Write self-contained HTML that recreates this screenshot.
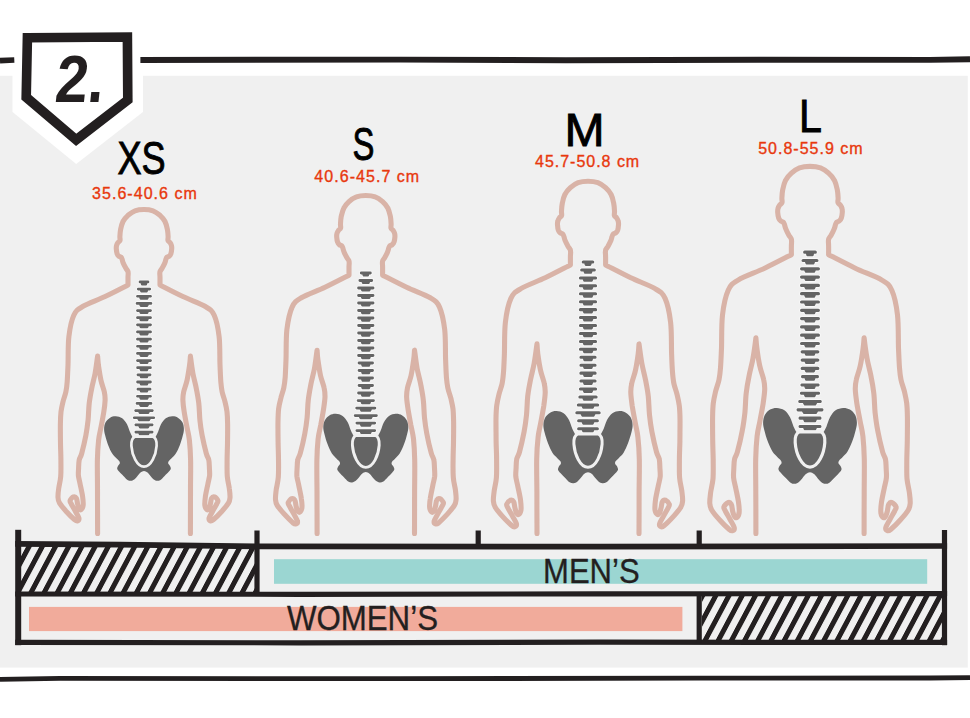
<!DOCTYPE html>
<html lang="en">
<head>
<meta charset="utf-8">
<title>2. Torso size chart</title>
<style>
html,body{margin:0;padding:0;background:#fff;}
body{width:970px;height:718px;overflow:hidden;}
svg{display:block;}
text{font-family:"Liberation Sans",sans-serif;}
.sz{font-size:45.6px;fill:#000;stroke:#000;stroke-width:0.9px;}
.cm{font-size:16px;fill:#e8380d;stroke:#e8380d;stroke-width:0.35px;}
.bar{font-size:34.4px;fill:#231f20;stroke:#231f20;stroke-width:0.3px;}
.num{font-size:66.5px;font-weight:bold;fill:#231f20;}
</style>
</head>
<body>
<svg width="970" height="718" viewBox="0 0 970 718">
<rect x="0" y="75.8" width="967.8" height="591.8" fill="#f0f0f0"/>
<path d="M97.6,533.5C97.6,526.2 97.5,501.8 97.5,489.5C97.5,477.2 97.2,468.1 97.4,459.9C97.6,451.7 98,445.7 98.6,440.2C99.2,434.7 100.2,431.5 101.1,426.8C102,422.1 103.1,416.2 103.8,411.8C104.5,407.4 105,403.4 105.1,400.1C105.2,396.8 105,395.1 104.3,391.8C103.6,388.5 101.9,384.6 100.9,380.1C99.9,375.6 99,369 98.4,365C97.9,361 97.7,357.6 97.6,356.1C97.2,359 96.1,368 95.1,373.4C94.1,378.8 92.7,383.4 91.7,388.4C90.7,393.4 89.8,398.1 89.2,403.4C88.6,408.7 88.6,414.8 88.1,420.1C87.5,425.4 87,429.6 85.9,435.2C84.8,440.8 82.8,449.4 81.7,453.5C80.6,457.6 79.7,457.5 79.2,459.9C78.7,462.3 78.7,465.4 78.6,468C78.5,470.6 78.2,473 78.4,475.6C78.7,478.2 79.4,480.4 80.1,483.9C80.8,487.4 82.1,492.9 82.6,496.5C83.1,500.1 83.4,503.5 83.1,505.7C82.8,507.9 81.6,509.3 80.9,509.7C80.2,510.1 79.5,509.1 78.9,508.1C78.4,507.2 78,505.6 77.6,504C77.2,502.4 77.1,499.4 76.4,498.2C75.7,497 74.5,496.5 73.4,496.9C72.4,497.3 70.4,499.4 70.1,500.6C69.8,501.8 70.4,502.2 71.3,504C72.2,505.8 74.2,509.1 75.5,511.5C76.8,513.9 78.6,516.6 78.9,518.1C79.2,519.6 78.3,520.5 77.6,520.8C76.9,521.1 76.6,521.3 74.7,519.8C72.8,518.2 68.8,514.3 66.3,511.5C63.8,508.7 61,505.5 59.6,503.2C58.2,500.9 58.1,499.9 58,497.5C57.9,495.1 58.2,492 58.7,488.5C59.2,485 60.3,481.2 60.7,476.5C61.1,471.8 60.9,465.5 60.9,460C60.9,454.5 60.6,449.6 60.5,443.5C60.4,437.4 60.3,428.8 60.4,423.5C60.5,418.2 60.6,415.4 61,411.8C61.4,408.2 62.2,405.1 63,401.8C63.8,398.5 65.2,395.2 65.9,391.8C66.6,388.4 66.9,386.2 67.2,381.7C67.5,377.2 67.7,372.5 68,365C68.3,357.5 67.9,344.8 68.9,336.5C69.9,328.2 71.5,320.3 73.8,315.3C76.1,310.3 77.4,309.6 82.6,306.5C87.8,303.4 97.5,300.1 105.1,296.5C112.7,292.9 124.2,286.9 128,285C128,283.8 128,279.4 128,277.5C128,275.6 128.2,274.6 128.2,273.5C128.2,272.4 128.2,272 127.8,271.1C127.4,270.2 126.7,269.7 125.9,268.3C125.1,266.9 123.7,264.2 123.1,262.7C122.5,261.2 122.4,260.1 122.1,259.2C121.8,258.3 121.5,257.6 121,257.1C120.5,256.6 119.6,256.8 118.9,256.2C118.2,255.6 117.5,254.9 117.1,253.7C116.7,252.5 116.4,250.2 116.3,248.8C116.2,247.4 116.3,246.4 116.6,245.3C116.9,244.2 117.4,243.3 118,242.5C118.6,241.7 119.7,241.4 120,240.4C120.3,239.4 119.8,238.3 119.9,236.5C120,234.7 120.1,232 120.6,229.5C121.1,227 121.8,223.9 123,221.5C124.2,219.1 126,217.1 128,215.3C130,213.6 132.3,211.8 135,210.8C137.7,209.8 141,209.5 144,209.5C147,209.5 150.3,209.8 153,210.8C155.7,211.8 158,213.6 160,215.3C162,217.1 163.8,219.1 165,221.5C166.2,223.9 166.9,227 167.4,229.5C167.9,232 168,234.7 168.1,236.5C168.2,238.3 167.7,239.4 168,240.4C168.3,241.4 169.4,241.7 170,242.5C170.6,243.3 171.1,244.2 171.4,245.3C171.7,246.4 171.8,247.4 171.7,248.8C171.6,250.2 171.3,252.5 170.9,253.7C170.5,254.9 169.8,255.6 169.1,256.2C168.4,256.8 167.5,256.6 167,257.1C166.5,257.6 166.2,258.3 165.9,259.2C165.6,260.1 165.5,261.2 164.9,262.7C164.3,264.2 162.9,266.9 162.1,268.3C161.3,269.7 160.6,270.2 160.2,271.1C159.8,272 159.8,272.4 159.8,273.5C159.8,274.6 160,275.6 160,277.5C160,279.4 160,283.8 160,285C163.8,286.9 175.3,292.9 182.9,296.5C190.5,300.1 200.2,303.4 205.4,306.5C210.6,309.6 211.9,310.3 214.2,315.3C216.5,320.3 218.1,328.2 219.1,336.5C220.1,344.8 219.7,357.5 220,365C220.3,372.5 220.5,377.2 220.8,381.7C221.2,386.2 221.4,388.4 222.1,391.8C222.8,395.2 224.2,398.5 225,401.8C225.8,405.1 226.6,408.2 227,411.8C227.4,415.4 227.5,418.2 227.6,423.5C227.7,428.8 227.6,437.4 227.5,443.5C227.4,449.6 227.1,454.5 227.1,460C227.1,465.5 226.9,471.8 227.3,476.5C227.7,481.2 228.9,485 229.3,488.5C229.8,492 230.2,495.1 230,497.5C229.8,499.9 229.8,500.9 228.4,503.2C227,505.5 224.2,508.7 221.7,511.5C219.2,514.3 215.2,518.2 213.3,519.8C211.4,521.3 211.1,521.1 210.4,520.8C209.7,520.5 208.8,519.6 209.1,518.1C209.4,516.6 211.2,513.9 212.5,511.5C213.8,509.1 215.8,505.8 216.7,504C217.6,502.2 218.2,501.8 217.9,500.6C217.6,499.4 215.7,497.3 214.6,496.9C213.5,496.5 212.3,497 211.6,498.2C210.9,499.4 210.8,502.4 210.4,504C210,505.6 209.7,507.2 209.1,508.1C208.5,509.1 207.8,510.1 207.1,509.7C206.4,509.3 205.2,507.9 204.9,505.7C204.6,503.5 204.9,500.1 205.4,496.5C205.9,492.9 207.2,487.4 207.9,483.9C208.6,480.4 209.3,478.2 209.6,475.6C209.8,473 209.5,470.6 209.4,468C209.3,465.4 209.3,462.3 208.8,459.9C208.3,457.5 207.4,457.6 206.3,453.5C205.2,449.4 203.2,440.8 202.1,435.2C201,429.6 200.4,425.4 199.9,420.1C199.4,414.8 199.4,408.7 198.8,403.4C198.2,398.1 197.3,393.4 196.3,388.4C195.3,383.4 193.9,378.8 192.9,373.4C191.9,368 190.8,359 190.4,356.1C190.3,357.6 190.2,361 189.6,365C189,369 188.1,375.6 187.1,380.1C186.1,384.6 184.4,388.5 183.7,391.8C183,395.1 182.8,396.8 182.9,400.1C183,403.4 183.5,407.4 184.2,411.8C184.9,416.2 186,422.1 186.9,426.8C187.8,431.5 188.8,434.7 189.4,440.2C190,445.7 190.4,451.7 190.6,459.9C190.8,468.1 190.5,477.2 190.5,489.5C190.5,501.8 190.4,526.2 190.4,533.5" fill="none" stroke="#d9b3a7" stroke-width="5.1" stroke-linecap="round" stroke-linejoin="round"/>
<path d="M139.7,280.6 H148.3 A1.4,1.4 0 0 1 148.3,283.3 H139.7 A1.4,1.4 0 0 1 139.7,280.6 ZM140.6,282.9 L147.4,282.9 L147,284.7 Q146.8,285.5 146,285.5 L142,285.5 Q141.2,285.5 141,284.7 ZM138.3,287.7 H149.7 A1.4,1.4 0 0 1 149.7,290.5 H138.3 A1.4,1.4 0 0 1 138.3,287.7 ZM139.8,290.1 L148.2,290.1 L147.7,291.8 Q147.5,292.6 146.7,292.6 L141.3,292.6 Q140.5,292.6 140.3,291.8 ZM137.1,294.9 H150.9 A1.4,1.4 0 0 1 150.9,297.6 H137.1 A1.4,1.4 0 0 1 137.1,294.9 ZM139.1,297.2 L148.9,297.2 L148.3,298.9 Q148.1,299.7 147.3,299.7 L140.7,299.7 Q139.9,299.7 139.7,298.9 ZM137.1,302 H150.9 A1.4,1.4 0 0 1 150.9,304.8 H137.1 A1.4,1.4 0 0 1 137.1,302 ZM139.1,304.4 L148.9,304.4 L148.3,306.1 Q148.1,306.9 147.3,306.9 L140.7,306.9 Q139.9,306.9 139.7,306.1 ZM137.1,309.2 H150.9 A1.4,1.4 0 0 1 150.9,311.9 H137.1 A1.4,1.4 0 0 1 137.1,309.2 ZM139.1,311.5 L148.9,311.5 L148.3,313.2 Q148.1,314 147.3,314 L140.7,314 Q139.9,314 139.7,313.2 ZM137.1,316.3 H150.9 A1.4,1.4 0 0 1 150.9,319 H137.1 A1.4,1.4 0 0 1 137.1,316.3 ZM139.1,318.6 L148.9,318.6 L148.3,320.4 Q148.1,321.2 147.3,321.2 L140.7,321.2 Q139.9,321.2 139.7,320.4 ZM137.1,323.5 H150.9 A1.4,1.4 0 0 1 150.9,326.2 H137.1 A1.4,1.4 0 0 1 137.1,323.5 ZM139.1,325.8 L148.9,325.8 L148.3,327.5 Q148.1,328.3 147.3,328.3 L140.7,328.3 Q139.9,328.3 139.7,327.5 ZM137.1,330.6 H150.9 A1.4,1.4 0 0 1 150.9,333.3 H137.1 A1.4,1.4 0 0 1 137.1,330.6 ZM139.1,332.9 L148.9,332.9 L148.3,334.7 Q148.1,335.5 147.3,335.5 L140.7,335.5 Q139.9,335.5 139.7,334.7 ZM137.1,337.8 H150.9 A1.4,1.4 0 0 1 150.9,340.5 H137.1 A1.4,1.4 0 0 1 137.1,337.8 ZM139.1,340.1 L148.9,340.1 L148.3,341.8 Q148.1,342.6 147.3,342.6 L140.7,342.6 Q139.9,342.6 139.7,341.8 ZM137.1,344.9 H150.9 A1.4,1.4 0 0 1 150.9,347.6 H137.1 A1.4,1.4 0 0 1 137.1,344.9 ZM139.1,347.2 L148.9,347.2 L148.3,349 Q148.1,349.8 147.3,349.8 L140.7,349.8 Q139.9,349.8 139.7,349 ZM137.1,352.1 H150.9 A1.4,1.4 0 0 1 150.9,354.8 H137.1 A1.4,1.4 0 0 1 137.1,352.1 ZM139.1,354.4 L148.9,354.4 L148.3,356.1 Q148.1,356.9 147.3,356.9 L140.7,356.9 Q139.9,356.9 139.7,356.1 ZM137.1,359.2 H150.9 A1.4,1.4 0 0 1 150.9,361.9 H137.1 A1.4,1.4 0 0 1 137.1,359.2 ZM139.1,361.5 L148.9,361.5 L148.3,363.3 Q148.1,364.1 147.3,364.1 L140.7,364.1 Q139.9,364.1 139.7,363.3 ZM137.6,366.3 H150.4 A1.4,1.4 0 0 1 150.4,369.1 H137.6 A1.4,1.4 0 0 1 137.6,366.3 ZM139.3,368.7 L148.7,368.7 L148,370.4 Q147.9,371.2 147.1,371.2 L140.9,371.2 Q140.1,371.2 140,370.4 ZM137.6,373.5 H150.4 A1.4,1.4 0 0 1 150.4,376.2 H137.6 A1.4,1.4 0 0 1 137.6,373.5 ZM139.3,375.8 L148.7,375.8 L148,377.5 Q147.9,378.3 147.1,378.3 L140.9,378.3 Q140.1,378.3 140,377.5 ZM137.6,380.6 H150.4 A1.4,1.4 0 0 1 150.4,383.4 H137.6 A1.4,1.4 0 0 1 137.6,380.6 ZM139.3,383 L148.7,383 L148,384.7 Q147.9,385.5 147.1,385.5 L140.9,385.5 Q140.1,385.5 140,384.7 ZM137.6,387.8 H150.4 A1.4,1.4 0 0 1 150.4,390.5 H137.6 A1.4,1.4 0 0 1 137.6,387.8 ZM139.3,390.1 L148.7,390.1 L148,391.8 Q147.9,392.6 147.1,392.6 L140.9,392.6 Q140.1,392.6 140,391.8 ZM137.1,394.9 H150.9 A1.4,1.4 0 0 1 150.9,397.6 H137.1 A1.4,1.4 0 0 1 137.1,394.9 ZM139.1,397.2 L148.9,397.2 L148.3,399 Q148.1,399.8 147.3,399.8 L140.7,399.8 Q139.9,399.8 139.7,399 ZM136.7,402.1 H151.3 A1.4,1.4 0 0 1 151.3,404.8 H136.7 A1.4,1.4 0 0 1 136.7,402.1 ZM138.8,404.4 L149.2,404.4 L148.5,406.1 Q148.3,406.9 147.5,406.9 L140.5,406.9 Q139.7,406.9 139.5,406.1 ZM135.3,409.2 H152.7 A1.4,1.4 0 0 1 152.7,411.9 H135.3 A1.4,1.4 0 0 1 135.3,409.2 ZM138,411.5 L150,411.5 L149.2,413.3 Q149,414.1 148.2,414.1 L139.8,414.1 Q139,414.1 138.8,413.3 ZM133.9,416.4 H154.1 A1.4,1.4 0 0 1 154.1,419.1 H133.9 A1.4,1.4 0 0 1 133.9,416.4 ZM137.1,418.7 L150.9,418.7 L149.9,420.4 Q149.7,421.2 148.9,421.2 L139.1,421.2 Q138.3,421.2 138.1,420.4 ZM135.5,423.5 H152.5 A1.4,1.4 0 0 1 152.5,426.2 H135.5 A1.4,1.4 0 0 1 135.5,423.5 ZM138.1,425.8 L149.9,425.8 L149.1,427.6 Q148.9,428.4 148.1,428.4 L139.9,428.4 Q139.1,428.4 138.9,427.6 ZM135.5,430.7 H152.5 A1.4,1.4 0 0 1 152.5,433.4 H135.5 A1.4,1.4 0 0 1 135.5,430.7 ZM138.1,433 L149.9,433 L149.1,434.7 Q148.9,435.5 148.1,435.5 L139.9,435.5 Q139.1,435.5 138.9,434.7 Z" fill="#646464" stroke="#f9f9f9" stroke-width="1.6" paint-order="stroke"/>
<path d="M144,471C142.8,471 141.6,471.8 140.5,472.6C139.4,473.5 138.5,475 137.5,476.1C136.5,477.2 135.7,478.4 134.6,479.2C133.5,480 132.3,480.7 131.1,480.8C129.9,480.9 128.8,480.7 127.5,479.9C126.2,479.1 124.8,477.3 123.4,475.9C122,474.5 120.3,472.9 119.3,471.7C118.3,470.5 117.4,469.7 117.2,468.7C117,467.7 117.7,466.6 118.1,465.7C118.5,464.8 119.6,464.2 119.8,463.4C120,462.6 119.8,461.9 119.2,461C118.6,460.1 117.6,459.4 116.4,458.2C115.2,457 113.6,455.8 112.2,453.6C110.8,451.4 109.3,447.9 108.1,444.9C106.9,441.9 105.9,438.2 105.2,435.5C104.5,432.8 104,430.9 104.1,428.7C104.2,426.5 104.6,424.1 105.6,422.3C106.6,420.5 108.4,418.7 110.1,417.7C111.8,416.7 113.8,416.2 115.8,416.3C117.8,416.4 120.3,417 122.2,418.3C124.1,419.6 125.7,422 127,424.3C128.3,426.6 129.1,430 130,432.1C130.9,434.2 132,436.1 132.4,436.9C136.3,436.9 151.7,436.9 155.6,436.9C156,436.1 157.1,434.2 158,432.1C158.9,430 159.7,426.6 161,424.3C162.3,422 163.9,419.6 165.8,418.3C167.7,417 170.2,416.4 172.2,416.3C174.2,416.2 176.2,416.7 177.9,417.7C179.6,418.7 181.4,420.5 182.4,422.3C183.4,424.1 183.8,426.5 183.9,428.7C184,430.9 183.5,432.8 182.8,435.5C182.1,438.2 181.1,441.9 179.9,444.9C178.7,447.9 177.2,451.4 175.8,453.6C174.4,455.8 172.8,457 171.6,458.2C170.4,459.4 169.4,460.1 168.8,461C168.2,461.9 168,462.6 168.2,463.4C168.4,464.2 169.5,464.8 169.9,465.7C170.3,466.6 171,467.7 170.8,468.7C170.6,469.7 169.7,470.5 168.7,471.7C167.7,472.9 166,474.5 164.6,475.9C163.2,477.3 161.8,479.1 160.5,479.9C159.2,480.7 158.1,480.9 156.9,480.8C155.7,480.7 154.5,480 153.4,479.2C152.3,478.4 151.5,477.2 150.5,476.1C149.5,475 148.6,473.5 147.5,472.6C146.4,471.8 145.2,471 144,471Z" fill="#646464"/>
<path d="M134.8,436.7 C132.4,437.9 131.1,441.3 131.4,445.8 C132,454.8 136.8,466.6 144,466.6 C151.2,466.6 156,454.8 156.6,445.8 C156.9,441.3 155.6,437.9 153.2,436.7 Z" fill="#646464" stroke="#f0f0f0" stroke-width="2.7" stroke-linejoin="round"/>
<path d="M317.1,533.5C317.1,526.4 317,503.2 317,490.9C316.9,478.6 316.7,468.3 316.9,459.7C317.1,451 317.5,444.7 318.1,438.9C318.8,433.1 319.8,429.7 320.8,424.8C321.7,419.8 322.9,413.6 323.6,408.9C324.3,404.2 324.9,400.1 325,396.6C325,393.1 324.9,391.3 324.1,387.8C323.4,384.3 321.6,380.2 320.5,375.5C319.5,370.8 318.5,363.8 317.9,359.6C317.3,355.3 317.2,351.7 317.1,350.2C316.6,353.2 315.5,362.7 314.5,368.4C313.4,374.1 311.9,379 310.9,384.2C309.9,389.5 308.9,394.5 308.3,400.1C307.6,405.6 307.7,412.1 307.1,417.7C306.5,423.3 305.9,427.7 304.8,433.6C303.7,439.5 301.6,448.6 300.4,452.9C299.2,457.3 298.3,457.1 297.8,459.7C297.2,462.2 297.3,465.5 297.1,468.2C297,471 296.7,473.4 296.9,476.2C297.2,479 298,481.3 298.7,485C299.4,488.7 300.8,494.5 301.3,498.3C301.9,502.1 302.2,505.7 301.9,508C301.6,510.3 300.3,511.8 299.5,512.2C298.8,512.6 298,511.5 297.4,510.5C296.9,509.5 296.5,507.9 296.1,506.2C295.6,504.5 295.6,501.3 294.8,500.1C294.1,498.8 292.8,498.3 291.7,498.7C290.6,499.1 288.6,501.4 288.2,502.6C287.8,503.9 288.5,504.3 289.5,506.2C290.4,508.1 292.5,511.6 293.9,514.1C295.2,516.6 297.1,519.4 297.4,521.1C297.8,522.7 296.8,523.6 296.1,523.9C295.3,524.2 295,524.5 293,522.9C291.1,521.2 286.9,517 284.2,514.1C281.6,511.2 278.6,507.8 277.2,505.4C275.7,502.9 275.7,501.9 275.5,499.3C275.3,496.8 275.8,493.5 276.2,489.8C276.7,486.2 278,482.2 278.3,477.2C278.7,472.2 278.6,465.6 278.5,459.8C278.5,454 278.2,448.8 278.1,442.4C278,436 277.9,426.8 278,421.3C278.1,415.7 278.2,412.7 278.6,408.9C279.1,405.1 279.9,401.9 280.8,398.4C281.6,394.9 283.1,391.4 283.8,387.8C284.5,384.3 284.8,381.9 285.2,377.2C285.5,372.5 285.7,367.5 286,359.6C286.3,351.6 285.9,338.2 286.9,329.5C288,320.7 289.7,312.4 292.1,307.1C294.5,301.8 295.9,301.1 301.3,297.8C306.8,294.5 317,291.1 325,287.3C332.9,283.5 345,277.2 349,275.2C349,273.8 349,269.3 349,267.2C349,265.2 349.2,264.1 349.2,263C349.2,261.9 349.2,261.4 348.8,260.5C348.4,259.6 347.6,259 346.8,257.5C346,256.1 344.5,253.2 343.9,251.6C343.2,250 343.2,248.9 342.8,247.9C342.4,246.9 342.2,246.2 341.7,245.7C341.1,245.2 340.1,245.4 339.4,244.8C338.8,244.2 338,243.4 337.6,242.1C337.1,240.8 336.8,238.4 336.7,237C336.6,235.5 336.7,234.4 337,233.3C337.3,232.2 337.9,231.2 338.5,230.3C339.1,229.5 340.3,229.2 340.6,228.1C340.9,227 340.4,225.9 340.5,224C340.6,222.1 340.7,219.2 341.2,216.6C341.8,214 342.5,210.6 343.8,208.2C345,205.7 346.9,203.6 349,201.7C351.1,199.8 353.6,197.9 356.4,196.9C359.2,195.8 362.7,195.5 365.8,195.5C368.9,195.5 372.4,195.8 375.2,196.9C378.1,197.9 380.5,199.8 382.6,201.7C384.7,203.6 386.6,205.7 387.9,208.2C389.1,210.6 389.8,214 390.4,216.6C390.9,219.2 391,222.1 391.1,224C391.2,225.9 390.7,227 391,228.1C391.3,229.2 392.5,229.5 393.1,230.3C393.7,231.2 394.3,232.2 394.6,233.3C394.9,234.4 395,235.5 394.9,237C394.8,238.4 394.5,240.8 394,242.1C393.6,243.4 392.8,244.2 392.2,244.8C391.5,245.4 390.5,245.2 389.9,245.7C389.4,246.2 389.2,246.9 388.8,247.9C388.4,248.9 388.4,250 387.7,251.6C387.1,253.2 385.6,256.1 384.8,257.5C384,259 383.2,259.6 382.8,260.5C382.4,261.4 382.4,261.9 382.4,263C382.4,264.1 382.6,265.2 382.6,267.2C382.6,269.3 382.6,273.8 382.6,275.2C386.6,277.2 398.7,283.5 406.6,287.3C414.6,291.1 424.8,294.5 430.3,297.8C435.7,301.1 437.1,301.8 439.5,307.1C441.9,312.4 443.6,320.7 444.7,329.5C445.7,338.2 445.3,351.6 445.6,359.6C445.9,367.5 446.1,372.5 446.4,377.2C446.8,381.9 447.1,384.3 447.8,387.8C448.5,391.4 450,394.9 450.9,398.4C451.7,401.9 452.5,405.1 453,408.9C453.4,412.7 453.5,415.7 453.6,421.3C453.7,426.8 453.6,436 453.5,442.4C453.4,448.8 453.1,454 453.1,459.8C453,465.6 452.9,472.2 453.3,477.2C453.6,482.2 454.9,486.2 455.4,489.8C455.8,493.5 456.3,496.8 456.1,499.3C455.9,501.9 455.9,502.9 454.4,505.4C453,507.8 450,511.2 447.4,514.1C444.7,517 440.5,521.2 438.6,522.9C436.6,524.5 436.3,524.2 435.5,523.9C434.8,523.6 433.8,522.7 434.2,521.1C434.5,519.4 436.4,516.6 437.7,514.1C439.1,511.6 441.2,508.1 442.1,506.2C443.1,504.3 443.8,503.9 443.4,502.6C443,501.4 441,499.1 439.9,498.7C438.8,498.3 437.5,498.8 436.8,500.1C436,501.3 436,504.5 435.5,506.2C435.1,507.9 434.7,509.5 434.2,510.5C433.6,511.5 432.8,512.6 432.1,512.2C431.3,511.8 430,510.3 429.7,508C429.4,505.7 429.7,502.1 430.3,498.3C430.8,494.5 432.2,488.7 432.9,485C433.6,481.3 434.4,479 434.7,476.2C434.9,473.4 434.6,471 434.5,468.2C434.3,465.5 434.4,462.2 433.8,459.7C433.3,457.1 432.4,457.3 431.2,452.9C430,448.6 427.9,439.5 426.8,433.6C425.7,427.7 425.1,423.3 424.5,417.7C423.9,412.1 424,405.6 423.3,400.1C422.7,394.5 421.7,389.5 420.7,384.2C419.7,379 418.2,374.1 417.1,368.4C416.1,362.7 415,353.2 414.5,350.2C414.4,351.7 414.3,355.3 413.7,359.6C413.1,363.8 412.1,370.8 411.1,375.5C410,380.2 408.2,384.3 407.5,387.8C406.8,391.3 406.6,393.1 406.6,396.6C406.7,400.1 407.3,404.2 408,408.9C408.7,413.6 409.9,419.8 410.8,424.8C411.8,429.7 412.8,433.1 413.5,438.9C414.1,444.7 414.5,451 414.7,459.7C414.9,468.3 414.7,478.6 414.6,490.9C414.6,503.2 414.5,526.4 414.5,533.5" fill="none" stroke="#d9b3a7" stroke-width="5.1" stroke-linecap="round" stroke-linejoin="round"/>
<path d="M361.3,271.5 H370.3 A1.4,1.4 0 0 1 370.3,274.4 H361.3 A1.4,1.4 0 0 1 361.3,271.5 ZM362.2,274 L369.4,274 L368.9,275.8 Q368.8,276.6 368,276.6 L363.6,276.6 Q362.8,276.6 362.7,275.8 ZM359.9,279 H371.7 A1.4,1.4 0 0 1 371.7,281.9 H359.9 A1.4,1.4 0 0 1 359.9,279 ZM361.4,281.5 L370.2,281.5 L369.6,283.3 Q369.5,284.1 368.7,284.1 L362.9,284.1 Q362.1,284.1 362,283.3 ZM358.6,286.5 H373 A1.4,1.4 0 0 1 373,289.4 H358.6 A1.4,1.4 0 0 1 358.6,286.5 ZM360.6,289 L371,289 L370.3,290.8 Q370.1,291.6 369.3,291.6 L362.3,291.6 Q361.5,291.6 361.3,290.8 ZM358.6,294 H373 A1.4,1.4 0 0 1 373,296.9 H358.6 A1.4,1.4 0 0 1 358.6,294 ZM360.6,296.5 L371,296.5 L370.3,298.3 Q370.1,299.1 369.3,299.1 L362.3,299.1 Q361.5,299.1 361.3,298.3 ZM358.6,301.5 H373 A1.4,1.4 0 0 1 373,304.4 H358.6 A1.4,1.4 0 0 1 358.6,301.5 ZM360.6,304 L371,304 L370.3,305.8 Q370.1,306.6 369.3,306.6 L362.3,306.6 Q361.5,306.6 361.3,305.8 ZM358.6,309 H373 A1.4,1.4 0 0 1 373,311.9 H358.6 A1.4,1.4 0 0 1 358.6,309 ZM360.6,311.5 L371,311.5 L370.3,313.4 Q370.1,314.2 369.3,314.2 L362.3,314.2 Q361.5,314.2 361.3,313.4 ZM358.6,316.6 H373 A1.4,1.4 0 0 1 373,319.4 H358.6 A1.4,1.4 0 0 1 358.6,316.6 ZM360.6,319 L371,319 L370.3,320.9 Q370.1,321.7 369.3,321.7 L362.3,321.7 Q361.5,321.7 361.3,320.9 ZM358.6,324.1 H373 A1.4,1.4 0 0 1 373,326.9 H358.6 A1.4,1.4 0 0 1 358.6,324.1 ZM360.6,326.5 L371,326.5 L370.3,328.4 Q370.1,329.2 369.3,329.2 L362.3,329.2 Q361.5,329.2 361.3,328.4 ZM358.6,331.6 H373 A1.4,1.4 0 0 1 373,334.4 H358.6 A1.4,1.4 0 0 1 358.6,331.6 ZM360.6,334 L371,334 L370.3,335.9 Q370.1,336.7 369.3,336.7 L362.3,336.7 Q361.5,336.7 361.3,335.9 ZM358.6,339.1 H373 A1.4,1.4 0 0 1 373,341.9 H358.6 A1.4,1.4 0 0 1 358.6,339.1 ZM360.6,341.5 L371,341.5 L370.3,343.4 Q370.1,344.2 369.3,344.2 L362.3,344.2 Q361.5,344.2 361.3,343.4 ZM358.6,346.6 H373 A1.4,1.4 0 0 1 373,349.4 H358.6 A1.4,1.4 0 0 1 358.6,346.6 ZM360.6,349 L371,349 L370.3,350.9 Q370.1,351.7 369.3,351.7 L362.3,351.7 Q361.5,351.7 361.3,350.9 ZM358.6,354.1 H373 A1.4,1.4 0 0 1 373,357 H358.6 A1.4,1.4 0 0 1 358.6,354.1 ZM360.6,356.6 L371,356.6 L370.3,358.4 Q370.1,359.2 369.3,359.2 L362.3,359.2 Q361.5,359.2 361.3,358.4 ZM359.1,361.6 H372.5 A1.4,1.4 0 0 1 372.5,364.5 H359.1 A1.4,1.4 0 0 1 359.1,361.6 ZM360.9,364.1 L370.7,364.1 L370,365.9 Q369.9,366.7 369.1,366.7 L362.5,366.7 Q361.7,366.7 361.6,365.9 ZM359.1,369.1 H372.5 A1.4,1.4 0 0 1 372.5,372 H359.1 A1.4,1.4 0 0 1 359.1,369.1 ZM360.9,371.6 L370.7,371.6 L370,373.4 Q369.9,374.2 369.1,374.2 L362.5,374.2 Q361.7,374.2 361.6,373.4 ZM359.1,376.6 H372.5 A1.4,1.4 0 0 1 372.5,379.5 H359.1 A1.4,1.4 0 0 1 359.1,376.6 ZM360.9,379.1 L370.7,379.1 L370,380.9 Q369.9,381.7 369.1,381.7 L362.5,381.7 Q361.7,381.7 361.6,380.9 ZM359.1,384.1 H372.5 A1.4,1.4 0 0 1 372.5,387 H359.1 A1.4,1.4 0 0 1 359.1,384.1 ZM360.9,386.6 L370.7,386.6 L370,388.4 Q369.9,389.2 369.1,389.2 L362.5,389.2 Q361.7,389.2 361.6,388.4 ZM358.6,391.6 H373 A1.4,1.4 0 0 1 373,394.5 H358.6 A1.4,1.4 0 0 1 358.6,391.6 ZM360.6,394.1 L371,394.1 L370.3,395.9 Q370.1,396.7 369.3,396.7 L362.3,396.7 Q361.5,396.7 361.3,395.9 ZM358.1,399.2 H373.5 A1.4,1.4 0 0 1 373.5,402 H358.1 A1.4,1.4 0 0 1 358.1,399.2 ZM360.4,401.6 L371.2,401.6 L370.5,403.5 Q370.3,404.3 369.5,404.3 L362.1,404.3 Q361.3,404.3 361.1,403.5 ZM356.7,406.7 H374.9 A1.4,1.4 0 0 1 374.9,409.5 H356.7 A1.4,1.4 0 0 1 356.7,406.7 ZM359.5,409.1 L372.1,409.1 L371.2,411 Q371.1,411.8 370.3,411.8 L361.3,411.8 Q360.5,411.8 360.4,411 ZM355.2,414.2 H376.4 A1.4,1.4 0 0 1 376.4,417 H355.2 A1.4,1.4 0 0 1 355.2,414.2 ZM358.6,416.6 L373,416.6 L372,418.5 Q371.8,419.3 371,419.3 L360.6,419.3 Q359.8,419.3 359.6,418.5 ZM356.9,421.7 H374.7 A1.4,1.4 0 0 1 374.7,424.5 H356.9 A1.4,1.4 0 0 1 356.9,421.7 ZM359.6,424.1 L372,424.1 L371.1,426 Q370.9,426.8 370.1,426.8 L361.5,426.8 Q360.7,426.8 360.5,426 ZM356.9,429.2 H374.7 A1.4,1.4 0 0 1 374.7,432 H356.9 A1.4,1.4 0 0 1 356.9,429.2 ZM359.6,431.6 L372,431.6 L371.1,433.5 Q370.9,434.3 370.1,434.3 L361.5,434.3 Q360.7,434.3 360.5,433.5 Z" fill="#646464" stroke="#f9f9f9" stroke-width="1.6" paint-order="stroke"/>
<path d="M365.8,472.1C364.6,472.1 363.2,472.9 362.1,473.8C360.9,474.7 359.9,476.3 358.9,477.5C357.8,478.7 356.9,480 355.8,480.8C354.7,481.6 353.3,482.4 352.1,482.5C350.8,482.6 349.6,482.4 348.2,481.5C346.9,480.7 345.3,478.7 343.9,477.3C342.4,475.8 340.6,474.1 339.5,472.8C338.4,471.5 337.5,470.7 337.3,469.6C337,468.5 337.8,467.4 338.2,466.4C338.7,465.5 339.8,464.8 340,464C340.2,463.1 340,462.3 339.4,461.4C338.8,460.5 337.6,459.7 336.4,458.4C335.2,457.1 333.4,455.9 331.9,453.5C330.5,451.2 328.8,447.5 327.6,444.3C326.3,441 325.2,437.1 324.5,434.2C323.8,431.4 323.2,429.3 323.3,427C323.4,424.7 323.8,422.1 324.9,420.2C326,418.2 327.9,416.4 329.7,415.3C331.5,414.2 333.6,413.7 335.8,413.8C337.9,413.9 340.6,414.5 342.6,415.9C344.6,417.4 346.3,419.9 347.7,422.3C349.1,424.8 349.9,428.4 350.9,430.6C351.8,432.9 353,434.9 353.4,435.7C357.6,435.7 374,435.7 378.2,435.7C378.6,434.9 379.8,432.9 380.7,430.6C381.7,428.4 382.5,424.8 383.9,422.3C385.3,419.9 387,417.4 389,415.9C391,414.5 393.7,413.9 395.8,413.8C398,413.7 400.1,414.2 401.9,415.3C403.7,416.4 405.6,418.2 406.7,420.2C407.8,422.1 408.2,424.7 408.3,427C408.4,429.3 407.8,431.4 407.1,434.2C406.4,437.1 405.3,441 404,444.3C402.8,447.5 401.1,451.2 399.7,453.5C398.2,455.9 396.4,457.1 395.2,458.4C394,459.7 392.8,460.5 392.2,461.4C391.6,462.3 391.4,463.1 391.6,464C391.8,464.8 392.9,465.5 393.4,466.4C393.8,467.4 394.6,468.5 394.3,469.6C394.1,470.7 393.2,471.5 392.1,472.8C391,474.1 389.2,475.8 387.7,477.3C386.3,478.7 384.7,480.7 383.4,481.5C382,482.4 380.8,482.6 379.5,482.5C378.3,482.4 376.9,481.6 375.8,480.8C374.7,480 373.8,478.7 372.7,477.5C371.7,476.3 370.7,474.7 369.5,473.8C368.4,472.9 367,472.1 365.8,472.1Z" fill="#646464"/>
<path d="M356,435.5 C353.4,436.8 352.1,440.4 352.4,445.2 C353,454.8 358.1,467.4 365.8,467.4 C373.5,467.4 378.6,454.8 379.2,445.2 C379.5,440.4 378.2,436.8 375.6,435.5 Z" fill="#646464" stroke="#f0f0f0" stroke-width="2.9" stroke-linejoin="round"/>
<path d="M537,533.5C536.9,526.6 536.9,504.4 536.9,492C536.8,479.6 536.5,468.3 536.7,459.1C536.9,450 537.4,443.4 538.1,437.3C538.7,431.2 539.9,427.7 540.8,422.4C541.8,417.1 543,410.7 543.8,405.8C544.5,400.8 545.1,396.5 545.2,392.8C545.3,389.1 545.1,387.3 544.3,383.6C543.6,379.9 541.7,375.5 540.6,370.6C539.5,365.6 538.4,358.2 537.8,353.8C537.2,349.4 537.1,345.6 537,343.9C536.5,347.1 535.3,357.2 534.2,363.1C533.1,369.1 531.6,374.2 530.5,379.8C529.4,385.3 528.4,390.6 527.7,396.4C527.1,402.3 527.1,409.1 526.5,415C525.9,420.8 525.3,425.5 524.1,431.7C522.9,437.9 520.7,447.5 519.5,452C518.2,456.6 517.3,456.5 516.7,459.1C516.2,461.8 516.2,465.2 516.1,468.1C515.9,471 515.6,473.6 515.8,476.6C516.1,479.5 516.9,481.9 517.7,485.8C518.5,489.7 519.9,495.7 520.5,499.8C521,503.8 521.3,507.5 521,510C520.7,512.4 519.4,514 518.6,514.4C517.8,514.9 517,513.7 516.4,512.6C515.8,511.6 515.4,509.9 515,508.1C514.5,506.3 514.4,503 513.6,501.7C512.9,500.3 511.5,499.8 510.3,500.2C509.2,500.7 507.1,503 506.7,504.3C506.3,505.6 507,506.1 508,508.1C509,510.1 511.3,513.8 512.6,516.4C514,519 516,522 516.4,523.7C516.8,525.5 515.7,526.4 515,526.7C514.2,527.1 513.8,527.4 511.8,525.6C509.7,523.9 505.3,519.5 502.5,516.4C499.8,513.3 496.7,509.8 495.2,507.2C493.6,504.6 493.6,503.6 493.4,500.9C493.2,498.2 493.7,494.8 494.2,490.9C494.7,487 496,482.8 496.4,477.6C496.8,472.3 496.6,465.4 496.6,459.3C496.6,453.1 496.2,447.7 496.1,440.9C496.1,434.2 495.9,424.6 496,418.7C496.1,412.9 496.2,409.8 496.7,405.8C497.2,401.7 498,398.4 498.9,394.7C499.8,391 501.3,387.3 502.1,383.6C502.9,379.8 503.1,377.3 503.5,372.3C503.9,367.4 504.1,362.2 504.4,353.8C504.7,345.4 504.3,331.4 505.4,322.2C506.5,313 508.3,304.2 510.8,298.6C513.3,293.1 514.7,292.3 520.5,288.9C526.2,285.4 536.9,281.7 545.2,277.8C553.5,273.8 566.2,267.1 570.4,265C570.4,263.6 570.4,258.8 570.4,256.7C570.4,254.6 570.7,253.4 570.6,252.2C570.6,251.1 570.6,250.5 570.2,249.6C569.8,248.6 569,248 568.1,246.5C567.2,244.9 565.7,241.9 565,240.3C564.3,238.6 564.3,237.4 563.9,236.4C563.5,235.3 563.3,234.6 562.7,234C562.1,233.5 561.1,233.7 560.4,233C559.7,232.4 558.9,231.6 558.4,230.3C557.9,228.9 557.6,226.4 557.5,224.8C557.4,223.3 557.5,222.1 557.9,220.9C558.2,219.8 558.8,218.7 559.4,217.8C560,216.9 561.3,216.6 561.6,215.5C561.9,214.4 561.4,213.2 561.5,211.2C561.6,209.2 561.7,206.2 562.3,203.4C562.8,200.6 563.5,197.1 564.9,194.5C566.3,191.9 568.2,189.7 570.4,187.7C572.6,185.7 575.2,183.7 578.1,182.6C581,181.6 584.7,181.2 588,181.2C591.3,181.2 595,181.6 597.9,182.6C600.8,183.7 603.4,185.7 605.6,187.7C607.8,189.7 609.7,191.9 611.1,194.5C612.5,197.1 613.2,200.6 613.7,203.4C614.3,206.2 614.4,209.2 614.5,211.2C614.6,213.2 614.1,214.4 614.4,215.5C614.7,216.6 616,216.9 616.6,217.8C617.2,218.7 617.8,219.8 618.1,220.9C618.5,222.1 618.6,223.3 618.5,224.8C618.4,226.4 618.1,228.9 617.6,230.3C617.1,231.6 616.3,232.4 615.6,233C614.9,233.7 613.9,233.5 613.3,234C612.7,234.6 612.5,235.3 612.1,236.4C611.7,237.4 611.7,238.6 611,240.3C610.3,241.9 608.8,244.9 607.9,246.5C607,248 606.2,248.6 605.8,249.6C605.4,250.5 605.4,251.1 605.4,252.2C605.3,253.4 605.6,254.6 605.6,256.7C605.6,258.8 605.6,263.6 605.6,265C609.8,267.1 622.5,273.8 630.8,277.8C639.1,281.7 649.8,285.4 655.5,288.9C661.3,292.3 662.7,293.1 665.2,298.6C667.7,304.2 669.5,313 670.6,322.2C671.7,331.4 671.3,345.4 671.6,353.8C671.9,362.2 672.1,367.4 672.5,372.3C672.9,377.3 673.1,379.8 673.9,383.6C674.7,387.3 676.2,391 677.1,394.7C678,398.4 678.8,401.7 679.3,405.8C679.8,409.8 679.9,412.9 680,418.7C680.1,424.6 679.9,434.2 679.9,440.9C679.8,447.7 679.4,453.1 679.4,459.3C679.4,465.4 679.2,472.3 679.6,477.6C680,482.8 681.3,487 681.8,490.9C682.3,494.8 682.8,498.2 682.6,500.9C682.4,503.6 682.4,504.6 680.8,507.2C679.3,509.8 676.2,513.3 673.5,516.4C670.7,519.5 666.3,523.9 664.2,525.6C662.2,527.4 661.8,527.1 661,526.7C660.3,526.4 659.2,525.5 659.6,523.7C660,522 662,519 663.4,516.4C664.7,513.8 667,510.1 668,508.1C669,506.1 669.7,505.6 669.3,504.3C668.9,503 666.8,500.7 665.7,500.2C664.5,499.8 663.1,500.3 662.4,501.7C661.6,503 661.5,506.3 661,508.1C660.6,509.9 660.2,511.6 659.6,512.6C659,513.7 658.2,514.9 657.4,514.4C656.6,514 655.3,512.4 655,510C654.7,507.5 655,503.8 655.5,499.8C656.1,495.7 657.5,489.7 658.3,485.8C659.1,481.9 659.9,479.5 660.2,476.6C660.4,473.6 660.1,471 659.9,468.1C659.8,465.2 659.8,461.8 659.3,459.1C658.7,456.5 657.8,456.6 656.5,452C655.3,447.5 653.1,437.9 651.9,431.7C650.7,425.5 650.1,420.8 649.5,415C648.9,409.1 648.9,402.3 648.3,396.4C647.6,390.6 646.6,385.3 645.5,379.8C644.4,374.2 642.9,369.1 641.8,363.1C640.7,357.2 639.5,347.1 639,343.9C638.9,345.6 638.8,349.4 638.2,353.8C637.6,358.2 636.5,365.6 635.4,370.6C634.3,375.5 632.4,379.9 631.7,383.6C630.9,387.3 630.7,389.1 630.8,392.8C630.9,396.5 631.5,400.8 632.2,405.8C633,410.7 634.2,417.1 635.2,422.4C636.1,427.7 637.3,431.2 637.9,437.3C638.6,443.4 639.1,450 639.3,459.1C639.5,468.3 639.2,479.6 639.1,492C639.1,504.4 639.1,526.6 639,533.5" fill="none" stroke="#d9b3a7" stroke-width="5.1" stroke-linecap="round" stroke-linejoin="round"/>
<path d="M583.2,260.5 H592.8 A1.5,1.5 0 0 1 592.8,263.5 H583.2 A1.5,1.5 0 0 1 583.2,260.5 ZM584.2,263.1 L591.8,263.1 L591.3,265.1 Q591.1,265.9 590.3,265.9 L585.7,265.9 Q584.9,265.9 584.7,265.1 ZM581.7,268.4 H594.3 A1.5,1.5 0 0 1 594.3,271.5 H581.7 A1.5,1.5 0 0 1 581.7,268.4 ZM583.3,271.1 L592.7,271.1 L592,273 Q591.9,273.8 591.1,273.8 L584.9,273.8 Q584.1,273.8 584,273 ZM580.4,276.4 H595.6 A1.5,1.5 0 0 1 595.6,279.4 H580.4 A1.5,1.5 0 0 1 580.4,276.4 ZM582.5,279 L593.5,279 L592.7,281 Q592.6,281.8 591.8,281.8 L584.2,281.8 Q583.4,281.8 583.3,281 ZM580.4,284.3 H595.6 A1.5,1.5 0 0 1 595.6,287.3 H580.4 A1.5,1.5 0 0 1 580.4,284.3 ZM582.5,286.9 L593.5,286.9 L592.7,288.9 Q592.6,289.7 591.8,289.7 L584.2,289.7 Q583.4,289.7 583.3,288.9 ZM580.4,292.3 H595.6 A1.5,1.5 0 0 1 595.6,295.3 H580.4 A1.5,1.5 0 0 1 580.4,292.3 ZM582.5,294.9 L593.5,294.9 L592.7,296.9 Q592.6,297.7 591.8,297.7 L584.2,297.7 Q583.4,297.7 583.3,296.9 ZM580.4,300.2 H595.6 A1.5,1.5 0 0 1 595.6,303.2 H580.4 A1.5,1.5 0 0 1 580.4,300.2 ZM582.5,302.8 L593.5,302.8 L592.7,304.8 Q592.6,305.6 591.8,305.6 L584.2,305.6 Q583.4,305.6 583.3,304.8 ZM580.4,308.1 H595.6 A1.5,1.5 0 0 1 595.6,311.2 H580.4 A1.5,1.5 0 0 1 580.4,308.1 ZM582.5,310.8 L593.5,310.8 L592.7,312.7 Q592.6,313.5 591.8,313.5 L584.2,313.5 Q583.4,313.5 583.3,312.7 ZM580.4,316.1 H595.6 A1.5,1.5 0 0 1 595.6,319.1 H580.4 A1.5,1.5 0 0 1 580.4,316.1 ZM582.5,318.7 L593.5,318.7 L592.7,320.7 Q592.6,321.5 591.8,321.5 L584.2,321.5 Q583.4,321.5 583.3,320.7 ZM580.4,324 H595.6 A1.5,1.5 0 0 1 595.6,327 H580.4 A1.5,1.5 0 0 1 580.4,324 ZM582.5,326.6 L593.5,326.6 L592.7,328.6 Q592.6,329.4 591.8,329.4 L584.2,329.4 Q583.4,329.4 583.3,328.6 ZM580.4,331.9 H595.6 A1.5,1.5 0 0 1 595.6,335 H580.4 A1.5,1.5 0 0 1 580.4,331.9 ZM582.5,334.6 L593.5,334.6 L592.7,336.5 Q592.6,337.3 591.8,337.3 L584.2,337.3 Q583.4,337.3 583.3,336.5 ZM580.4,339.9 H595.6 A1.5,1.5 0 0 1 595.6,342.9 H580.4 A1.5,1.5 0 0 1 580.4,339.9 ZM582.5,342.5 L593.5,342.5 L592.7,344.5 Q592.6,345.3 591.8,345.3 L584.2,345.3 Q583.4,345.3 583.3,344.5 ZM580.4,347.8 H595.6 A1.5,1.5 0 0 1 595.6,350.8 H580.4 A1.5,1.5 0 0 1 580.4,347.8 ZM582.5,350.4 L593.5,350.4 L592.7,352.4 Q592.6,353.2 591.8,353.2 L584.2,353.2 Q583.4,353.2 583.3,352.4 ZM580.9,355.8 H595.1 A1.5,1.5 0 0 1 595.1,358.8 H580.9 A1.5,1.5 0 0 1 580.9,355.8 ZM582.8,358.4 L593.2,358.4 L592.5,360.4 Q592.3,361.2 591.5,361.2 L584.5,361.2 Q583.7,361.2 583.5,360.4 ZM580.9,363.7 H595.1 A1.5,1.5 0 0 1 595.1,366.7 H580.9 A1.5,1.5 0 0 1 580.9,363.7 ZM582.8,366.3 L593.2,366.3 L592.5,368.3 Q592.3,369.1 591.5,369.1 L584.5,369.1 Q583.7,369.1 583.5,368.3 ZM580.9,371.6 H595.1 A1.5,1.5 0 0 1 595.1,374.7 H580.9 A1.5,1.5 0 0 1 580.9,371.6 ZM582.8,374.3 L593.2,374.3 L592.5,376.2 Q592.3,377 591.5,377 L584.5,377 Q583.7,377 583.5,376.2 ZM580.9,379.6 H595.1 A1.5,1.5 0 0 1 595.1,382.6 H580.9 A1.5,1.5 0 0 1 580.9,379.6 ZM582.8,382.2 L593.2,382.2 L592.5,384.2 Q592.3,385 591.5,385 L584.5,385 Q583.7,385 583.5,384.2 ZM580.4,387.5 H595.6 A1.5,1.5 0 0 1 595.6,390.5 H580.4 A1.5,1.5 0 0 1 580.4,387.5 ZM582.5,390.1 L593.5,390.1 L592.7,392.1 Q592.6,392.9 591.8,392.9 L584.2,392.9 Q583.4,392.9 583.3,392.1 ZM579.9,395.4 H596.1 A1.5,1.5 0 0 1 596.1,398.5 H579.9 A1.5,1.5 0 0 1 579.9,395.4 ZM582.2,398.1 L593.8,398.1 L593,400 Q592.8,400.8 592,400.8 L584,400.8 Q583.2,400.8 583,400 ZM578.3,403.4 H597.7 A1.5,1.5 0 0 1 597.7,406.4 H578.3 A1.5,1.5 0 0 1 578.3,403.4 ZM581.3,406 L594.7,406 L593.7,408 Q593.6,408.8 592.8,408.8 L583.2,408.8 Q582.4,408.8 582.3,408 ZM576.8,411.3 H599.2 A1.5,1.5 0 0 1 599.2,414.3 H576.8 A1.5,1.5 0 0 1 576.8,411.3 ZM580.4,413.9 L595.6,413.9 L594.5,415.9 Q594.4,416.7 593.6,416.7 L582.4,416.7 Q581.6,416.7 581.5,415.9 ZM578.6,419.3 H597.4 A1.5,1.5 0 0 1 597.4,422.3 H578.6 A1.5,1.5 0 0 1 578.6,419.3 ZM581.5,421.9 L594.5,421.9 L593.6,423.9 Q593.4,424.7 592.6,424.7 L583.4,424.7 Q582.6,424.7 582.4,423.9 ZM578.6,427.2 H597.4 A1.5,1.5 0 0 1 597.4,430.2 H578.6 A1.5,1.5 0 0 1 578.6,427.2 ZM581.5,429.8 L594.5,429.8 L593.6,431.8 Q593.4,432.6 592.6,432.6 L583.4,432.6 Q582.6,432.6 582.4,431.8 Z" fill="#646464" stroke="#f9f9f9" stroke-width="1.6" paint-order="stroke"/>
<path d="M588,472.3C586.7,472.3 585.3,473.1 584.1,474C582.9,475 581.8,476.7 580.7,478C579.6,479.2 578.7,480.5 577.5,481.4C576.3,482.3 574.9,483.1 573.6,483.2C572.3,483.3 571,483.1 569.6,482.2C568.1,481.3 566.5,479.3 565,477.7C563.4,476.2 561.5,474.4 560.4,473C559.2,471.7 558.3,470.8 558,469.7C557.8,468.6 558.6,467.3 559,466.3C559.5,465.3 560.7,464.6 560.9,463.8C561.1,462.9 560.9,462 560.3,461.1C559.6,460.1 558.4,459.3 557.1,457.9C555.8,456.6 554,455.3 552.4,452.8C550.9,450.3 549.2,446.4 547.9,443.1C546.6,439.7 545.4,435.6 544.6,432.6C543.9,429.5 543.3,427.4 543.4,425C543.5,422.5 544,419.9 545.1,417.8C546.2,415.8 548.2,413.8 550.1,412.7C552,411.5 554.2,411 556.5,411.1C558.7,411.2 561.5,411.8 563.6,413.3C565.7,414.8 567.5,417.5 569,420C570.4,422.6 571.3,426.4 572.3,428.8C573.4,431.1 574.6,433.2 575,434.1C579.4,434.1 596.6,434.1 601,434.1C601.4,433.2 602.6,431.1 603.7,428.8C604.7,426.4 605.6,422.6 607,420C608.5,417.5 610.3,414.8 612.4,413.3C614.5,411.8 617.3,411.2 619.5,411.1C621.8,411 624,411.5 625.9,412.7C627.8,413.8 629.8,415.8 630.9,417.8C632,419.9 632.5,422.5 632.6,425C632.7,427.4 632.1,429.5 631.4,432.6C630.6,435.6 629.4,439.7 628.1,443.1C626.8,446.4 625.1,450.3 623.6,452.8C622,455.3 620.2,456.6 618.9,457.9C617.6,459.3 616.4,460.1 615.7,461.1C615.1,462 614.9,462.9 615.1,463.8C615.3,464.6 616.5,465.3 617,466.3C617.4,467.3 618.2,468.6 618,469.7C617.7,470.8 616.8,471.7 615.6,473C614.5,474.4 612.6,476.2 611,477.7C609.5,479.3 607.9,481.3 606.4,482.2C605,483.1 603.7,483.3 602.4,483.2C601.1,483.1 599.7,482.3 598.5,481.4C597.3,480.5 596.4,479.2 595.3,478C594.2,476.7 593.1,475 591.9,474C590.7,473.1 589.3,472.3 588,472.3Z" fill="#646464"/>
<path d="M577.7,433.9 C575,435.2 573.6,439.1 573.9,444.1 C574.6,454.1 580,467.3 588,467.3 C596,467.3 601.4,454.1 602.1,444.1 C602.4,439.1 601,435.2 598.3,433.9 Z" fill="#646464" stroke="#f0f0f0" stroke-width="3" stroke-linejoin="round"/>
<path d="M755.9,533.5C755.9,526.9 755.9,506.4 755.8,494C755.8,481.6 755.5,469 755.7,459.4C755.9,449.8 756.4,442.8 757.1,436.3C757.8,429.9 759,426.2 760,420.6C761,415.1 762.4,408.3 763.2,403.1C763.9,397.9 764.6,393.3 764.7,389.4C764.8,385.5 764.6,383.6 763.7,379.7C762.9,375.8 760.9,371.2 759.8,366C758.6,360.8 757.5,353 756.9,348.3C756.2,343.7 756.1,339.7 755.9,337.9C755.5,341.3 754.2,351.9 753,358.2C751.9,364.5 750.2,369.9 749.1,375.7C747.9,381.6 746.9,387.1 746.2,393.3C745.5,399.4 745.5,406.6 744.9,412.8C744.2,419 743.6,424 742.3,430.5C741.1,437 738.7,447.1 737.4,451.9C736.1,456.7 735.1,456.5 734.5,459.4C733.9,462.2 734,465.8 733.8,468.8C733.7,471.9 733.3,474.6 733.6,477.7C733.9,480.8 734.7,483.4 735.6,487.4C736.4,491.5 737.9,497.9 738.5,502.2C739.1,506.4 739.4,510.4 739.1,513C738.7,515.5 737.3,517.2 736.5,517.6C735.7,518.1 734.8,516.9 734.2,515.8C733.5,514.7 733.1,512.9 732.6,511C732.2,509 732.1,505.6 731.2,504.2C730.4,502.8 729,502.2 727.8,502.7C726.5,503.1 724.3,505.6 723.9,507C723.5,508.4 724.3,508.8 725.3,511C726.4,513.1 728.7,517 730.2,519.7C731.7,522.5 733.8,525.6 734.2,527.5C734.6,529.3 733.5,530.3 732.6,530.6C731.8,531 731.5,531.3 729.3,529.5C727.1,527.6 722.4,523 719.5,519.7C716.5,516.5 713.3,512.8 711.7,510C710.1,507.3 710,506.2 709.8,503.4C709.6,500.5 710.1,496.9 710.6,492.8C711.1,488.7 712.5,484.3 713,478.8C713.4,473.2 713.2,465.9 713.2,459.5C713.1,453.1 712.8,447.3 712.7,440.2C712.6,433.1 712.5,423 712.6,416.8C712.7,410.6 712.8,407.3 713.3,403.1C713.8,398.9 714.7,395.3 715.6,391.4C716.6,387.5 718.2,383.6 719,379.7C719.8,375.8 720.1,373.1 720.5,367.9C720.9,362.6 721.1,357.1 721.5,348.3C721.8,339.5 721.4,324.7 722.5,315C723.6,305.3 725.6,296 728.2,290.2C730.9,284.3 732.4,283.6 738.5,279.9C744.5,276.2 755.9,272.4 764.7,268.2C773.5,264 786.9,257 791.4,254.7C791.4,253.3 791.3,248.2 791.4,246C791.4,243.7 791.6,242.5 791.6,241.3C791.6,240 791.6,239.5 791.1,238.5C790.7,237.5 789.8,236.8 788.9,235.2C788,233.6 786.4,230.4 785.7,228.6C784.9,226.9 784.9,225.6 784.5,224.5C784.1,223.5 783.8,222.7 783.2,222.1C782.6,221.5 781.5,221.7 780.8,221C780,220.4 779.2,219.6 778.7,218.1C778.2,216.7 777.8,214 777.7,212.4C777.6,210.7 777.7,209.5 778.1,208.3C778.4,207.1 779,206 779.7,205C780.4,204.1 781.7,203.7 782,202.6C782.4,201.4 781.8,200.1 781.9,198C782,195.9 782.1,192.7 782.7,189.8C783.3,186.9 784.1,183.2 785.5,180.4C787,177.7 789,175.3 791.4,173.2C793.7,171.2 796.4,169.1 799.5,167.9C802.6,166.8 806.5,166.4 810,166.4C813.5,166.4 817.4,166.8 820.5,167.9C823.6,169.1 826.3,171.2 828.6,173.2C831,175.3 833,177.7 834.5,180.4C835.9,183.2 836.7,186.9 837.3,189.8C837.9,192.7 838,195.9 838.1,198C838.2,200.1 837.6,201.4 838,202.6C838.3,203.7 839.6,204.1 840.3,205C841,206 841.6,207.1 841.9,208.3C842.3,209.5 842.4,210.7 842.3,212.4C842.2,214 841.8,216.7 841.3,218.1C840.8,219.6 840,220.4 839.2,221C838.5,221.7 837.4,221.5 836.8,222.1C836.2,222.7 835.9,223.5 835.5,224.5C835.1,225.6 835.1,226.9 834.3,228.6C833.6,230.4 832,233.6 831.1,235.2C830.2,236.8 829.3,237.5 828.9,238.5C828.4,239.5 828.4,240 828.4,241.3C828.4,242.5 828.6,243.7 828.6,246C828.7,248.2 828.6,253.3 828.6,254.7C833.1,257 846.5,264 855.3,268.2C864.1,272.4 875.5,276.2 881.5,279.9C887.6,283.6 889.1,284.3 891.8,290.2C894.4,296 896.4,305.3 897.5,315C898.6,324.7 898.2,339.5 898.5,348.3C898.9,357.1 899.1,362.6 899.5,367.9C899.9,373.1 900.2,375.8 901,379.7C901.8,383.6 903.4,387.5 904.4,391.4C905.3,395.3 906.2,398.9 906.7,403.1C907.2,407.3 907.3,410.6 907.4,416.8C907.5,423 907.4,433.1 907.3,440.2C907.2,447.3 906.9,453.1 906.8,459.5C906.8,465.9 906.6,473.2 907,478.8C907.5,484.3 908.9,488.7 909.4,492.8C909.9,496.9 910.4,500.5 910.2,503.4C910,506.2 909.9,507.3 908.3,510C906.7,512.8 903.5,516.5 900.5,519.7C897.6,523 892.9,527.6 890.7,529.5C888.5,531.3 888.2,531 887.4,530.6C886.5,530.3 885.4,529.3 885.8,527.5C886.2,525.6 888.3,522.5 889.8,519.7C891.3,517 893.6,513.1 894.7,511C895.7,508.8 896.5,508.4 896.1,507C895.7,505.6 893.5,503.1 892.2,502.7C891,502.2 889.6,502.8 888.8,504.2C887.9,505.6 887.8,509 887.4,511C886.9,512.9 886.5,514.7 885.8,515.8C885.2,516.9 884.3,518.1 883.5,517.6C882.7,517.2 881.3,515.5 880.9,513C880.6,510.4 880.9,506.4 881.5,502.2C882.1,497.9 883.6,491.5 884.4,487.4C885.3,483.4 886.1,480.8 886.4,477.7C886.7,474.6 886.3,471.9 886.2,468.8C886,465.8 886.1,462.2 885.5,459.4C884.9,456.5 883.9,456.7 882.6,451.9C881.3,447.1 878.9,437 877.7,430.5C876.4,424 875.8,419 875.1,412.8C874.5,406.6 874.5,399.4 873.8,393.3C873.1,387.1 872.1,381.6 870.9,375.7C869.8,369.9 868.1,364.5 867,358.2C865.8,351.9 864.5,341.3 864.1,337.9C863.9,339.7 863.8,343.7 863.1,348.3C862.5,353 861.4,360.8 860.2,366C859.1,371.2 857.1,375.8 856.3,379.7C855.4,383.6 855.2,385.5 855.3,389.4C855.4,393.3 856.1,397.9 856.8,403.1C857.6,408.3 859,415.1 860,420.6C861,426.2 862.2,429.9 862.9,436.3C863.6,442.8 864.1,449.8 864.3,459.4C864.5,469 864.2,481.6 864.2,494C864.1,506.4 864.1,526.9 864.1,533.5" fill="none" stroke="#d9b3a7" stroke-width="5.1" stroke-linecap="round" stroke-linejoin="round"/>
<path d="M804.7,250.6 H815.3 A1.6,1.6 0 0 1 815.3,253.8 H804.7 A1.6,1.6 0 0 1 804.7,250.6 ZM805.9,253.4 L814.1,253.4 L813.6,255.4 Q813.4,256.2 812.6,256.2 L807.4,256.2 Q806.6,256.2 806.4,255.4 ZM803.1,258.9 H816.9 A1.6,1.6 0 0 1 816.9,262.1 H803.1 A1.6,1.6 0 0 1 803.1,258.9 ZM804.9,261.7 L815.1,261.7 L814.4,263.7 Q814.2,264.5 813.5,264.5 L806.5,264.5 Q805.8,264.5 805.6,263.7 ZM801.6,267.2 H818.4 A1.6,1.6 0 0 1 818.4,270.4 H801.6 A1.6,1.6 0 0 1 801.6,267.2 ZM804,270 L816,270 L815.1,272 Q815,272.8 814.2,272.8 L805.8,272.8 Q805,272.8 804.9,272 ZM801.6,275.5 H818.4 A1.6,1.6 0 0 1 818.4,278.7 H801.6 A1.6,1.6 0 0 1 801.6,275.5 ZM804,278.3 L816,278.3 L815.1,280.3 Q815,281.1 814.2,281.1 L805.8,281.1 Q805,281.1 804.9,280.3 ZM801.6,283.8 H818.4 A1.6,1.6 0 0 1 818.4,287 H801.6 A1.6,1.6 0 0 1 801.6,283.8 ZM804,286.6 L816,286.6 L815.1,288.6 Q815,289.4 814.2,289.4 L805.8,289.4 Q805,289.4 804.9,288.6 ZM801.6,292.1 H818.4 A1.6,1.6 0 0 1 818.4,295.3 H801.6 A1.6,1.6 0 0 1 801.6,292.1 ZM804,294.9 L816,294.9 L815.1,296.9 Q815,297.7 814.2,297.7 L805.8,297.7 Q805,297.7 804.9,296.9 ZM801.6,300.4 H818.4 A1.6,1.6 0 0 1 818.4,303.6 H801.6 A1.6,1.6 0 0 1 801.6,300.4 ZM804,303.2 L816,303.2 L815.1,305.2 Q815,306 814.2,306 L805.8,306 Q805,306 804.9,305.2 ZM801.6,308.7 H818.4 A1.6,1.6 0 0 1 818.4,311.9 H801.6 A1.6,1.6 0 0 1 801.6,308.7 ZM804,311.5 L816,311.5 L815.1,313.5 Q815,314.3 814.2,314.3 L805.8,314.3 Q805,314.3 804.9,313.5 ZM801.6,317 H818.4 A1.6,1.6 0 0 1 818.4,320.2 H801.6 A1.6,1.6 0 0 1 801.6,317 ZM804,319.8 L816,319.8 L815.1,321.8 Q815,322.6 814.2,322.6 L805.8,322.6 Q805,322.6 804.9,321.8 ZM801.6,325.3 H818.4 A1.6,1.6 0 0 1 818.4,328.5 H801.6 A1.6,1.6 0 0 1 801.6,325.3 ZM804,328.1 L816,328.1 L815.1,330.1 Q815,330.9 814.2,330.9 L805.8,330.9 Q805,330.9 804.9,330.1 ZM801.6,333.6 H818.4 A1.6,1.6 0 0 1 818.4,336.8 H801.6 A1.6,1.6 0 0 1 801.6,333.6 ZM804,336.4 L816,336.4 L815.1,338.4 Q815,339.2 814.2,339.2 L805.8,339.2 Q805,339.2 804.9,338.4 ZM801.6,341.9 H818.4 A1.6,1.6 0 0 1 818.4,345.1 H801.6 A1.6,1.6 0 0 1 801.6,341.9 ZM804,344.7 L816,344.7 L815.1,346.7 Q815,347.5 814.2,347.5 L805.8,347.5 Q805,347.5 804.9,346.7 ZM802.2,350.2 H817.8 A1.6,1.6 0 0 1 817.8,353.4 H802.2 A1.6,1.6 0 0 1 802.2,350.2 ZM804.4,353 L815.6,353 L814.9,355 Q814.7,355.8 813.9,355.8 L806.1,355.8 Q805.3,355.8 805.1,355 ZM802.2,358.5 H817.8 A1.6,1.6 0 0 1 817.8,361.7 H802.2 A1.6,1.6 0 0 1 802.2,358.5 ZM804.4,361.3 L815.6,361.3 L814.9,363.3 Q814.7,364.1 813.9,364.1 L806.1,364.1 Q805.3,364.1 805.1,363.3 ZM802.2,366.8 H817.8 A1.6,1.6 0 0 1 817.8,370 H802.2 A1.6,1.6 0 0 1 802.2,366.8 ZM804.4,369.6 L815.6,369.6 L814.9,371.6 Q814.7,372.4 813.9,372.4 L806.1,372.4 Q805.3,372.4 805.1,371.6 ZM802.2,375.1 H817.8 A1.6,1.6 0 0 1 817.8,378.2 H802.2 A1.6,1.6 0 0 1 802.2,375.1 ZM804.4,377.8 L815.6,377.8 L814.9,379.9 Q814.7,380.7 813.9,380.7 L806.1,380.7 Q805.3,380.7 805.1,379.9 ZM801.6,383.4 H818.4 A1.6,1.6 0 0 1 818.4,386.5 H801.6 A1.6,1.6 0 0 1 801.6,383.4 ZM804,386.1 L816,386.1 L815.1,388.2 Q815,389 814.2,389 L805.8,389 Q805,389 804.9,388.2 ZM801.1,391.7 H818.9 A1.6,1.6 0 0 1 818.9,394.8 H801.1 A1.6,1.6 0 0 1 801.1,391.7 ZM803.7,394.4 L816.3,394.4 L815.4,396.5 Q815.2,397.3 814.5,397.3 L805.5,397.3 Q804.8,397.3 804.6,396.5 ZM799.4,400 H820.6 A1.6,1.6 0 0 1 820.6,403.1 H799.4 A1.6,1.6 0 0 1 799.4,400 ZM802.7,402.7 L817.3,402.7 L816.2,404.8 Q816.1,405.6 815.3,405.6 L804.7,405.6 Q803.9,405.6 803.8,404.8 ZM797.7,408.3 H822.3 A1.6,1.6 0 0 1 822.3,411.4 H797.7 A1.6,1.6 0 0 1 797.7,408.3 ZM801.7,411 L818.3,411 L817.1,413.1 Q817,413.9 816.2,413.9 L803.8,413.9 Q803,413.9 802.9,413.1 ZM799.7,416.6 H820.3 A1.6,1.6 0 0 1 820.3,419.7 H799.7 A1.6,1.6 0 0 1 799.7,416.6 ZM802.9,419.3 L817.1,419.3 L816.1,421.4 Q816,422.2 815.2,422.2 L804.8,422.2 Q804,422.2 803.9,421.4 ZM799.7,424.9 H820.3 A1.6,1.6 0 0 1 820.3,428 H799.7 A1.6,1.6 0 0 1 799.7,424.9 ZM802.9,427.6 L817.1,427.6 L816.1,429.7 Q816,430.5 815.2,430.5 L804.8,430.5 Q804,430.5 803.9,429.7 Z" fill="#646464" stroke="#f9f9f9" stroke-width="1.6" paint-order="stroke"/>
<path d="M810,472.2C808.6,472.2 807.2,473.1 805.9,474.1C804.6,475.1 803.5,476.9 802.4,478.2C801.2,479.5 800.2,480.9 798.9,481.9C797.7,482.8 796.2,483.6 794.8,483.8C793.4,483.9 792.1,483.7 790.6,482.7C789.1,481.7 787.4,479.6 785.8,478C784.2,476.4 782.2,474.5 781,473.1C779.7,471.6 778.7,470.7 778.5,469.5C778.2,468.3 779,467 779.5,466C780.1,465 781.3,464.2 781.5,463.3C781.8,462.4 781.5,461.5 780.8,460.5C780.2,459.4 778.9,458.6 777.5,457.2C776.2,455.7 774.2,454.4 772.6,451.8C771,449.2 769.2,445.1 767.8,441.5C766.4,438 765.2,433.7 764.4,430.5C763.6,427.3 763,425.1 763.1,422.5C763.2,419.9 763.7,417.1 764.8,415C766,412.8 768.1,410.7 770.1,409.5C772.1,408.4 774.5,407.8 776.8,407.9C779.2,408 782.2,408.7 784.4,410.3C786.6,411.8 788.5,414.6 790,417.3C791.5,420 792.5,424 793.5,426.5C794.6,429 795.9,431.2 796.4,432.1C800.9,432.1 819.1,432.1 823.6,432.1C824.1,431.2 825.4,429 826.5,426.5C827.5,424 828.5,420 830,417.3C831.5,414.6 833.4,411.8 835.6,410.3C837.8,408.7 840.8,408 843.2,407.9C845.5,407.8 847.9,408.4 849.9,409.5C851.9,410.7 854,412.8 855.2,415C856.3,417.1 856.8,419.9 856.9,422.5C857,425.1 856.4,427.3 855.6,430.5C854.8,433.7 853.6,438 852.2,441.5C850.8,445.1 849,449.2 847.4,451.8C845.8,454.4 843.8,455.7 842.5,457.2C841.1,458.6 839.8,459.4 839.2,460.5C838.5,461.5 838.2,462.4 838.5,463.3C838.7,464.2 839.9,465 840.5,466C841,467 841.8,468.3 841.5,469.5C841.3,470.7 840.3,471.6 839,473.1C837.8,474.5 835.8,476.4 834.2,478C832.6,479.6 830.9,481.7 829.4,482.7C827.9,483.7 826.6,483.9 825.2,483.8C823.8,483.6 822.3,482.8 821.1,481.9C819.8,480.9 818.8,479.5 817.6,478.2C816.5,476.9 815.4,475.1 814.1,474.1C812.8,473.1 811.4,472.2 810,472.2Z" fill="#646464"/>
<path d="M799.2,431.9 C796.4,433.3 794.8,437.3 795.2,442.6 C795.9,453.2 801.5,467.1 810,467.1 C818.5,467.1 824.1,453.2 824.8,442.6 C825.2,437.3 823.6,433.3 820.8,431.9 Z" fill="#646464" stroke="#f0f0f0" stroke-width="3.2" stroke-linejoin="round"/>
<text class="sz" x="117.5" y="174" textLength="48.2" lengthAdjust="spacingAndGlyphs">XS</text>
<text class="cm" x="92.1" y="198.5" textLength="104.7" lengthAdjust="spacing">35.6-40.6 cm</text>
<text class="sz" x="352.4" y="160" textLength="21.9" lengthAdjust="spacingAndGlyphs">S</text>
<text class="cm" x="314.3" y="181.7" textLength="104.9" lengthAdjust="spacing">40.6-45.7 cm</text>
<text class="sz" x="564.5" y="146.2" textLength="40.1" lengthAdjust="spacingAndGlyphs">M</text>
<text class="cm" x="535" y="166.7" textLength="104.2" lengthAdjust="spacing">45.7-50.8 cm</text>
<text class="sz" x="799.1" y="132" textLength="22.9" lengthAdjust="spacingAndGlyphs">L</text>
<text class="cm" x="758.2" y="153.6" textLength="104.4" lengthAdjust="spacing">50.8-55.9 cm</text>
<polygon points="12.5,0 143,0 143,112 76.2,164 12.5,112" fill="#fff"/>
<path d="M0,60.6 L14.3,60" stroke="#231f20" stroke-width="5.6" fill="none"/>
<path d="M140.4,60 L400,59.6 L566,60.2 L760,59.7 L930,59.9 L970,59.2" stroke="#231f20" stroke-width="5.9" fill="none" stroke-linejoin="round"/>
<polygon points="27.4,37.8 127.4,37 127.8,100 76.2,139.8 26.2,97.2" fill="#fff" stroke="#231f20" stroke-width="9.6" stroke-linejoin="miter"/>
<text class="num" transform="translate(53.8,101.8) skewX(-6) scale(0.88,1)" x="0" y="0">2.</text>
<path d="M0,679.4 L60,678.4 L400,678.7 L700,678.2 L930,678 L970,677.6" stroke="#231f20" stroke-width="4.8" fill="none" stroke-linejoin="round"/>
<defs><pattern id="hatch" width="13.2" height="60" patternUnits="userSpaceOnUse" patternTransform="skewX(-28)"><rect x="0" y="0" width="5.7" height="60" fill="#231f20"/></pattern></defs>
<rect x="20" y="546" width="236" height="46" fill="url(#hatch)"/>
<rect x="702" y="596" width="241" height="45" fill="url(#hatch)"/>
<rect x="274" y="559.2" width="653.2" height="24.6" fill="#9bd6d2"/>
<rect x="29" y="606.9" width="653.4" height="24.2" fill="#f1ab9b"/>
<g stroke="#231f20" stroke-width="5.2" fill="none" stroke-linecap="butt" stroke-linejoin="miter">
<path d="M18.2,529.8 V645.2" stroke-width="6"/>
<path d="M944.5,530 V645.2"/>
<path d="M15.2,543.8 L120,544.6 L257,546.4 L600,546.6 L947.1,546" stroke-width="5.7"/>
<path d="M15.2,594 L300,594.3 L600,593.9 L947.1,593.6"/>
<path d="M15.2,642.4 L300,642.8 L600,642.2 L947.1,642.4"/>
<path d="M257,530.5 V594"/>
<path d="M478.2,530.5 V544"/>
<path d="M699.2,530.5 V544"/>
<path d="M699.2,594 V642.5"/>
</g>
<text class="bar" x="543" y="583.2" textLength="96.7" lengthAdjust="spacingAndGlyphs">MEN’S</text>
<text class="bar" x="286.9" y="630.3" textLength="151.1" lengthAdjust="spacingAndGlyphs">WOMEN’S</text>
</svg>
</body>
</html>
